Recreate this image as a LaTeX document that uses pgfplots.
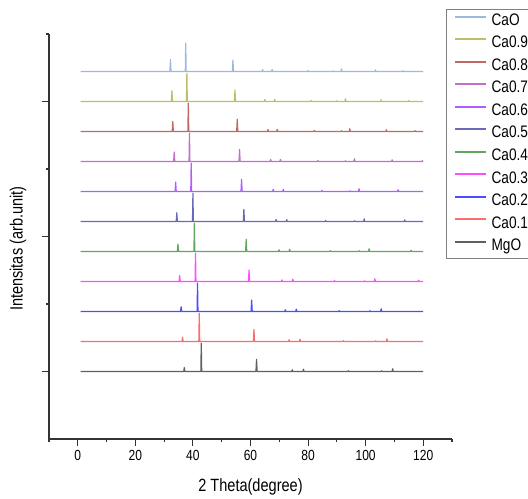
\documentclass[border=0pt]{standalone}
\usepackage{fontspec}
\setmainfont[FakeStretch=0.82]{Liberation Sans}
\usepackage{pgfplots}
\pgfplotsset{compat=1.18}
\definecolor{cCaO}{HTML}{9DB9E0}
\definecolor{cNine}{HTML}{BDBD6A}
\definecolor{cEight}{HTML}{C06868}
\definecolor{cSeven}{HTML}{C070C8}
\definecolor{cSix}{HTML}{B05CFF}
\definecolor{cFive}{HTML}{6A6AB8}
\definecolor{cFour}{HTML}{60A860}
\definecolor{cThree}{HTML}{FF4CFF}
\definecolor{cTwo}{HTML}{4C4CFF}
\definecolor{cOne}{HTML}{FF6A6A}
\definecolor{cMgO}{HTML}{606060}
\begin{document}
\begin{tikzpicture}
\begin{axis}[
  scale only axis, width=302.25pt, height=303.75pt,
  xmin=-10, xmax=130, ymin=0, ymax=6,
  axis lines=left,
  axis line style={-, line width=0.9pt, color=black!80},
  xtick={0,20,...,120}, minor xtick={-10,10,...,130},
  ytick={1,3,5}, minor ytick={2,4,6}, yticklabels={},
  tick align=outside, major tick length=5pt, minor tick length=2.5pt,
  tick style={line width=0.8pt, color=black!80},
  /pgf/number format/assume math mode=true,
  ticklabel style={font=\fontsize{11}{12}\selectfont},
  xlabel={2 Theta(degree)}, ylabel={Intensitas (arb.unit)},
  label style={font=\fontsize{13.3}{15}\selectfont},
  xlabel style={at={(axis description cs:0.5,-0.1185)},anchor=center},
  ylabel style={at={(axis description cs:-0.077,0.47)},anchor=center},
  legend style={at={(axis description cs:0.985,1.062)},anchor=north west,
    draw=gray, line width=0.6pt, font=\fontsize{12.5}{15}\selectfont,
    inner xsep=6pt, inner ysep=3pt, row sep=5.4pt, column sep=3.5pt,
    nodes={inner sep=0pt, text height=9pt, text depth=2.5pt}},
  legend cell align=left,
  legend image code/.code={\draw[#1, line width=1.4pt] (0pt,3.3pt) -- (23pt,3.3pt);},
  every axis plot/.append style={line width=0.9pt, line join=round},
]
\addplot[cCaO] table[row sep=\\, y expr=\thisrowno{1}+5.444] {
1 0\\ 32.0 0\\ 32.2 0.18\\ 32.4 0\\ 37.35 0\\ 37.5 0.42\\ 37.65 0\\ 53.7 0\\ 53.9 0.17\\ 54.1 0\\
64.0 0\\ 64.2 0.03\\ 64.4 0\\ 67.3 0\\ 67.5 0.03\\ 67.7 0\\ 79.7 0\\ 79.9 0.015\\ 80.1 0\\
88.4 0\\ 88.6 0.01\\ 88.8 0\\ 91.4 0\\ 91.6 0.04\\ 91.8 0\\ 103.2 0\\ 103.4 0.025\\ 103.6 0\\
112.7 0\\ 112.9 0.012\\ 113.1 0\\ 120 0\\
};
\addlegendentry{CaO}
\addplot[cNine] table[row sep=\\, y expr=\thisrowno{1}+5.0] {
1 0\\ 32.5 0\\ 32.7 0.16\\ 32.9 0\\ 37.75 0\\ 37.9 0.42\\ 38.05 0\\ 54.4 0\\ 54.6 0.17\\ 54.8 0\\
64.8 0\\ 65.0 0.03\\ 65.2 0\\ 68.2 0\\ 68.4 0.03\\ 68.6 0\\ 80.8 0\\ 81.0 0.015\\ 81.2 0\\
89.8 0\\ 90.0 0.01\\ 90.2 0\\ 92.8 0\\ 93.0 0.04\\ 93.2 0\\ 105.2 0\\ 105.4 0.025\\ 105.6 0\\
114.7 0\\ 114.9 0.012\\ 115.1 0\\ 120 0\\
};
\addlegendentry{Ca0.9}
\addplot[cEight] table[row sep=\\, y expr=\thisrowno{1}+4.556] {
1 0\\ 32.8 0\\ 33.0 0.15\\ 33.2 0\\ 38.25 0\\ 38.4 0.42\\ 38.55 0\\ 55.2 0\\ 55.4 0.18\\ 55.6 0\\
65.9 0\\ 66.1 0.03\\ 66.3 0\\ 69.1 0\\ 69.3 0.03\\ 69.5 0\\ 82.0 0\\ 82.2 0.015\\ 82.4 0\\
91.4 0\\ 91.6 0.01\\ 91.8 0\\ 94.3 0\\ 94.5 0.04\\ 94.7 0\\ 107.0 0\\ 107.2 0.025\\ 107.4 0\\
117.0 0\\ 117.2 0.012\\ 117.4 0\\ 120 0\\
};
\addlegendentry{Ca0.8}
\addplot[cSeven] table[row sep=\\, y expr=\thisrowno{1}+4.111] {
1 0\\ 33.3 0\\ 33.5 0.14\\ 33.7 0\\ 38.65 0\\ 38.8 0.42\\ 38.95 0\\ 56.0 0\\ 56.2 0.18\\ 56.4 0\\
66.8 0\\ 67.0 0.03\\ 67.2 0\\ 70.2 0\\ 70.4 0.03\\ 70.6 0\\ 83.2 0\\ 83.4 0.015\\ 83.6 0\\
92.8 0\\ 93.0 0.01\\ 93.2 0\\ 95.9 0\\ 96.1 0.04\\ 96.3 0\\ 109.0 0\\ 109.2 0.025\\ 109.4 0\\
119.5 0\\ 119.7 0.012\\ 119.9 0\\ 120 0\\
};
\addlegendentry{Ca0.7}
\addplot[cSix] table[row sep=\\, y expr=\thisrowno{1}+3.667] {
1 0\\ 33.8 0\\ 34.0 0.14\\ 34.2 0\\ 39.25 0\\ 39.4 0.42\\ 39.55 0\\ 56.7 0\\ 56.9 0.18\\ 57.1 0\\
67.7 0\\ 67.9 0.03\\ 68.1 0\\ 71.2 0\\ 71.4 0.03\\ 71.6 0\\ 84.6 0\\ 84.8 0.015\\ 85.0 0\\
94.4 0\\ 94.6 0.01\\ 94.8 0\\ 97.5 0\\ 97.7 0.04\\ 97.9 0\\ 111.1 0\\ 111.3 0.025\\ 111.5 0\\
120 0\\
};
\addlegendentry{Ca0.6}
\addplot[cFive] table[row sep=\\, y expr=\thisrowno{1}+3.222] {
1 0\\ 34.2 0\\ 34.4 0.13\\ 34.6 0\\ 39.85 0\\ 40.0 0.42\\ 40.15 0\\ 57.5 0\\ 57.7 0.18\\ 57.9 0\\
68.7 0\\ 68.9 0.03\\ 69.1 0\\ 72.4 0\\ 72.6 0.03\\ 72.8 0\\ 85.9 0\\ 86.1 0.015\\ 86.3 0\\
96.0 0\\ 96.2 0.01\\ 96.4 0\\ 99.3 0\\ 99.5 0.04\\ 99.7 0\\ 113.4 0\\ 113.6 0.025\\ 113.8 0\\
120 0\\
};
\addlegendentry{Ca0.5}
\addplot[cFour] table[row sep=\\, y expr=\thisrowno{1}+2.778] {
1 0\\ 34.6 0\\ 34.8 0.11\\ 35.0 0\\ 40.35 0\\ 40.5 0.42\\ 40.65 0\\ 58.3 0\\ 58.5 0.18\\ 58.7 0\\
69.7 0\\ 69.9 0.025\\ 70.1 0\\ 73.4 0\\ 73.6 0.035\\ 73.8 0\\ 87.5 0\\ 87.7 0.012\\ 87.9 0\\
97.6 0\\ 97.8 0.01\\ 98.0 0\\ 101.0 0\\ 101.2 0.04\\ 101.4 0\\ 115.6 0\\ 115.8 0.02\\ 116.0 0\\
120 0\\
};
\addlegendentry{Ca0.4}
\addplot[cThree] table[row sep=\\, y expr=\thisrowno{1}+2.333] {
1 0\\ 35.2 0\\ 35.4 0.09\\ 35.6 0\\ 40.75 0\\ 40.9 0.42\\ 41.05 0\\ 59.3 0\\ 59.5 0.17\\ 59.7 0\\
70.7 0\\ 70.9 0.025\\ 71.1 0\\ 74.5 0\\ 74.7 0.035\\ 74.9 0\\ 89.0 0\\ 89.2 0.012\\ 89.4 0\\
99.4 0\\ 99.6 0.01\\ 99.8 0\\ 103.0 0\\ 103.2 0.04\\ 103.4 0\\ 118.2 0\\ 118.4 0.02\\ 118.6 0\\
120 0\\
};
\addlegendentry{Ca0.3}
\addplot[cTwo] table[row sep=\\, y expr=\thisrowno{1}+1.889] {
1 0\\ 35.7 0\\ 35.9 0.07\\ 36.1 0\\ 41.45 0\\ 41.6 0.42\\ 41.75 0\\ 60.2 0\\ 60.4 0.17\\ 60.6 0\\
71.9 0\\ 72.1 0.025\\ 72.3 0\\ 75.7 0\\ 75.9 0.035\\ 76.1 0\\ 90.6 0\\ 90.8 0.012\\ 91.0 0\\
101.3 0\\ 101.5 0.01\\ 101.7 0\\ 105.2 0\\ 105.4 0.04\\ 105.6 0\\ 120 0\\
};
\addlegendentry{Ca0.2}
\addplot[cOne] table[row sep=\\, y expr=\thisrowno{1}+1.444] {
1 0\\ 36.2 0\\ 36.4 0.065\\ 36.6 0\\ 42.05 0\\ 42.2 0.42\\ 42.35 0\\ 61.0 0\\ 61.2 0.18\\ 61.4 0\\
73.2 0\\ 73.4 0.025\\ 73.6 0\\ 77.0 0\\ 77.2 0.035\\ 77.4 0\\ 92.1 0\\ 92.3 0.012\\ 92.5 0\\
103.3 0\\ 103.5 0.01\\ 103.7 0\\ 107.2 0\\ 107.4 0.04\\ 107.6 0\\ 120 0\\
};
\addlegendentry{Ca0.1}
\addplot[cMgO] table[row sep=\\, y expr=\thisrowno{1}+1.0] {
1 0\\ 36.8 0\\ 37.0 0.06\\ 37.2 0\\ 42.75 0\\ 42.9 0.42\\ 43.05 0\\ 61.9 0\\ 62.1 0.18\\ 62.3 0\\
74.3 0\\ 74.5 0.025\\ 74.7 0\\ 78.2 0\\ 78.4 0.035\\ 78.6 0\\ 93.8 0\\ 94.0 0.012\\ 94.2 0\\
105.4 0\\ 105.6 0.01\\ 105.8 0\\ 109.2 0\\ 109.4 0.04\\ 109.6 0\\ 120 0\\
};
\addlegendentry{MgO}
\coordinate (bbsw) at (axis description cs:-0.1216,-0.1457);
\coordinate (bbne) at (axis description cs:1.1886,1.0840);
\end{axis}
\pgfresetboundingbox
\path[use as bounding box] (bbsw) rectangle (bbne);
\end{tikzpicture}
\end{document}
